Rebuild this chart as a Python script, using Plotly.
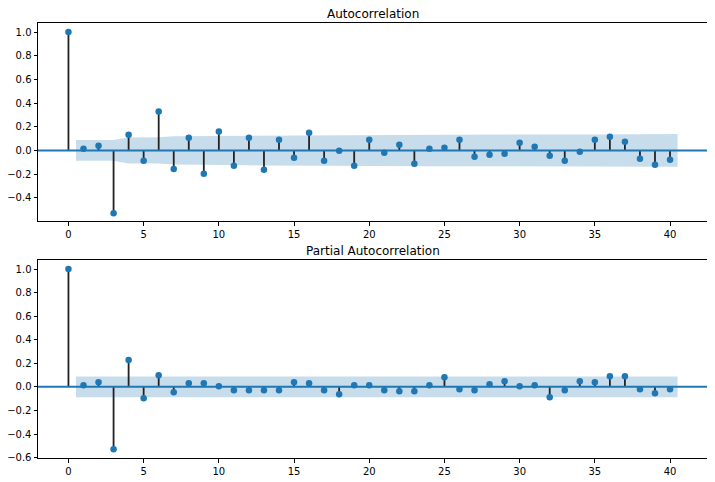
import plotly.graph_objects as go
from plotly.subplots import make_subplots

lags = list(range(41))

acf_values = [1.0, 0.015, 0.04, -0.53, 0.133, -0.088, 0.329, -0.156, 0.108, -0.198,
              0.159, -0.13, 0.108, -0.164, 0.091, -0.062, 0.15, -0.088, -0.003, -0.13,
              0.091, -0.02, 0.048, -0.113, 0.014, 0.023, 0.091, -0.054, -0.037, -0.028,
              0.065, 0.031, -0.045, -0.088, -0.011, 0.091, 0.116, 0.074, -0.071, -0.122,
              -0.079]

# confidence band half-widths for lags 1..40
acf_band = [0.088, 0.088, 0.088, 0.110, 0.111, 0.111, 0.119, 0.120, 0.121, 0.123,
            0.125, 0.126, 0.127, 0.128, 0.129, 0.129, 0.130, 0.131, 0.131, 0.132,
            0.132, 0.132, 0.133, 0.133, 0.133, 0.133, 0.134, 0.134, 0.134, 0.134,
            0.134, 0.134, 0.135, 0.135, 0.135, 0.135, 0.136, 0.136, 0.137, 0.138]

pacf_values = [1.0, 0.014, 0.04, -0.53, 0.227, -0.096, 0.099, -0.045, 0.031, 0.031,
               0.006, -0.028, -0.028, -0.028, -0.028, 0.04, 0.031, -0.028, -0.062, 0.014,
               0.014, -0.028, -0.037, -0.037, 0.014, 0.082, -0.02, -0.028, 0.023, 0.048,
               0.006, 0.014, -0.088, -0.028, 0.048, 0.04, 0.091, 0.091, -0.02, -0.054,
               -0.02]

pacf_band = [0.088] * 40

titles = ["Autocorrelation", "Partial Autocorrelation"]
x_ticks = [0, 5, 10, 15, 20, 25, 30, 35, 40]

C0 = "#1f77b4"
BAND = "rgba(31,119,180,0.25)"
STEM = "#222222"
FONT = "DejaVu Sans"

fig = make_subplots(rows=2, cols=1, vertical_spacing=0.09)


def add_panel(row, values, band):
    bx = [float(v) for v in lags[1:]]
    bx[0] -= 0.5
    bx[-1] += 0.5
    fig.add_trace(go.Scatter(
        x=bx + bx[::-1],
        y=band + [-b for b in band[::-1]],
        fill="toself", fillcolor=BAND, line=dict(width=0),
        mode="lines", hoverinfo="skip", showlegend=False), row=row, col=1)
    sx, sy = [], []
    for k, v in zip(lags, values):
        sx += [k, k, None]
        sy += [0, v, None]
    fig.add_trace(go.Scatter(x=sx, y=sy, mode="lines",
                             line=dict(color=STEM, width=1.8),
                             showlegend=False, hoverinfo="skip"), row=row, col=1)
    fig.add_trace(go.Scatter(x=lags, y=values, mode="markers",
                             marker=dict(color=C0, size=6.5),
                             showlegend=False), row=row, col=1)


add_panel(1, acf_values, acf_band)
add_panel(2, pacf_values, pacf_band)

axis_common = dict(showline=True, linecolor="#000000", linewidth=1, mirror=True,
                   ticks="outside", ticklen=3.5, tickwidth=1, tickcolor="#000000",
                   showgrid=False, zeroline=False, automargin=False,
                   tickfont=dict(family=FONT, size=10, color="#000000"))

fig.update_xaxes(**axis_common, range=[-2.025, 42.525], tickvals=x_ticks)
fig.update_yaxes(**axis_common, tickformat=".1f", dtick=0.2)
fig.update_yaxes(range=[-0.5965, 1.0765], tick0=0, row=1, col=1)
fig.update_yaxes(range=[-0.6035, 1.0765], tick0=0, row=2, col=1)

# page body has an 8px default margin, so the figure is offset by it
fig.update_layout(
    width=707, height=474,
    margin=dict(l=30, r=7, t=15, b=24, pad=0, autoexpand=False),
    paper_bgcolor="white", plot_bgcolor="white",
    xaxis=dict(domain=[0, 1]),
    xaxis2=dict(domain=[0, 1]),
    yaxis=dict(domain=[0.5448, 1.0]),
    yaxis2=dict(domain=[0.0, 0.4552]),
    font=dict(family=FONT, color="#000000"),
)

for i in range(2):
    xd = "x domain" if i == 0 else "x2 domain"
    yd = "y domain" if i == 0 else "y2 domain"
    fig.add_shape(type="line", xref=xd, yref="y" if i == 0 else "y2",
                  x0=0, x1=1, y0=0, y1=0,
                  line=dict(color=C0, width=2), layer="above")
    fig.add_annotation(text=titles[i], xref=xd, yref=yd, x=0.5, y=1.0,
                       yanchor="bottom", xanchor="center",
                       yshift=1, borderpad=0, showarrow=False,
                       font=dict(family=FONT, size=12, color="#000000"))

fig.write_html("out.html")
